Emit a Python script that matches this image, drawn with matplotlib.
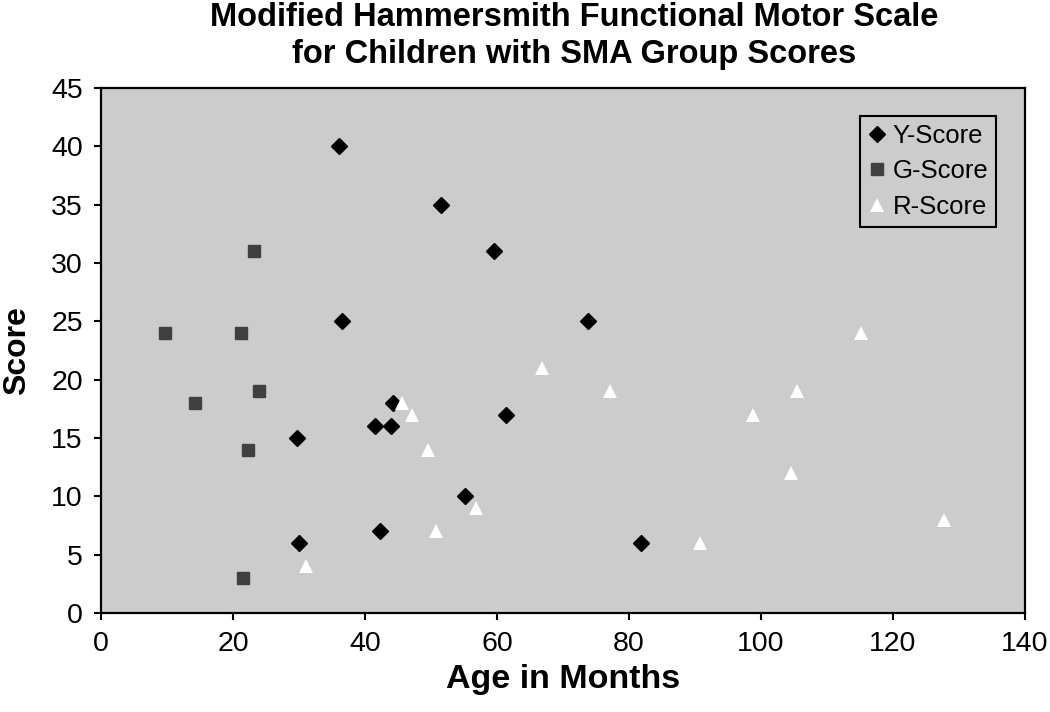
import matplotlib
matplotlib.use('Agg')
import matplotlib.pyplot as plt
import numpy as np

# ── Daten ────────────────────────────────────────────────────────────────────
y_age   = [36.0, 51.5, 59.5, 36.5, 44.2, 41.5, 44.0, 61.4, 29.7, 55.2, 42.2, 30.0, 73.8, 81.8]
y_score = [40, 35, 31, 25, 18, 16, 16, 17, 15, 10, 7, 6, 25, 6]

g_age   = [23.2, 9.7, 21.2, 24.0, 14.3, 22.2, 21.5]
g_score = [31, 24, 24, 19, 18, 14, 3]

r_age   = [66.8, 45.6, 47.1, 49.5, 56.8, 50.8, 31.0, 77.1, 105.4, 98.8, 104.5, 115.1, 127.8, 90.7]
r_score = [21, 18, 17, 14, 9, 7, 4, 19, 19, 17, 12, 24, 8, 6]

x_ticks = [0, 20, 40, 60, 80, 100, 120, 140]
y_ticks = [0, 5, 10, 15, 20, 25, 30, 35, 40, 45]

# ── Stil ─────────────────────────────────────────────────────────────────────
_FONT   = ['Liberation Sans', 'DejaVu Sans']
_BG     = '#cccccc'
_SQ     = '#404040'

plt.rcParams['font.family'] = _FONT

fig = plt.figure(figsize=(10.5, 7.12), dpi=100)
fig.patch.set_facecolor('white')
ax = fig.add_axes([101 / 1050, 1 - 613 / 712, 924 / 1050, 525 / 712])
ax.set_facecolor(_BG)

ax.plot(y_age, y_score, linestyle='none', marker='D', markersize=7.8,
        color='black', label='Y-Score', zorder=3)
ax.plot(g_age, g_score, linestyle='none', marker='s', markersize=9,
        color=_SQ, label='G-Score', zorder=3)
ax.plot(r_age, r_score, linestyle='none', marker='^', markersize=10,
        color='white', markeredgewidth=0, label='R-Score', zorder=3)

ax.set_xlim(0, 140)
ax.set_ylim(0, 45)
ax.set_xticks(x_ticks)
ax.set_yticks(y_ticks)
ax.tick_params(axis='both', direction='out', length=5, width=1.5,
               labelsize=20.5, pad=8, top=False, right=False)
for spine in ax.spines.values():
    spine.set_linewidth(1.6)
    spine.set_color('black')

ax.set_xlabel('Age in Months', fontsize=24.5, fontweight='bold', labelpad=5)
ax.set_ylabel('Score', fontsize=23, fontweight='bold', labelpad=14)

# Titel (zweizeilig, über dem Diagramm zentriert)
fig.text(574 / 1050, 1 - 2 / 712,
         'Modified Hammersmith Functional Motor Scale\n'
         'for Children with SMA Group Scores',
         ha='center', va='top', fontsize=23.5, fontweight='bold',
         linespacing=1.25)

leg = ax.legend(loc='upper right', bbox_to_anchor=(0.9686, 0.9467),
                fontsize=18.5, frameon=True, fancybox=False,
                facecolor=_BG, edgecolor='black', framealpha=1,
                handlelength=0.7, handletextpad=0.25, labelspacing=0.45,
                borderpad=0.3, borderaxespad=0)
leg.get_frame().set_linewidth(1.5)

fig.savefig('out.png', dpi=100, facecolor='white')
